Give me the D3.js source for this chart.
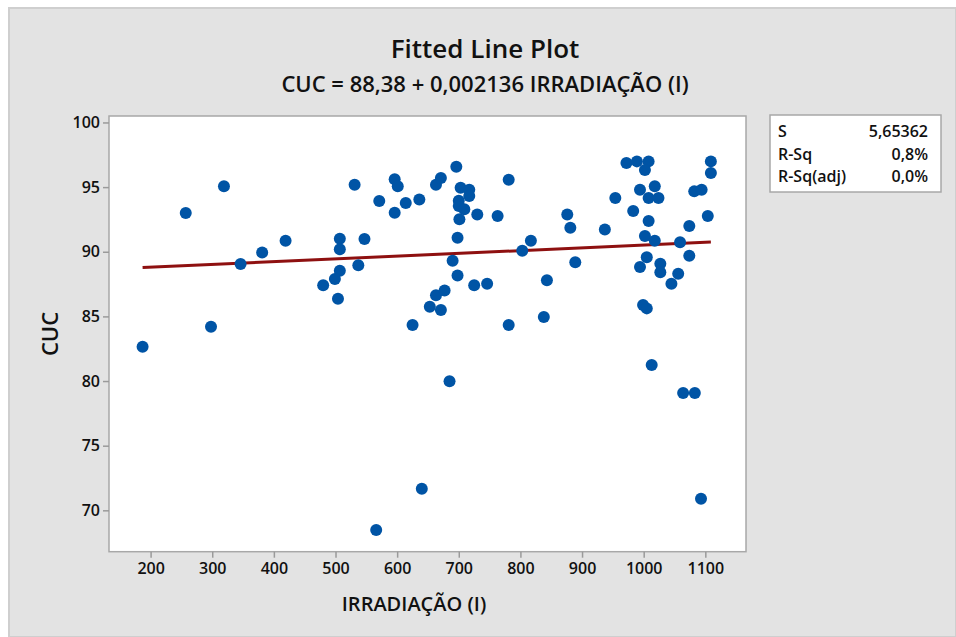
<!DOCTYPE html>
<html>
<head>
<meta charset="utf-8">
<script src="https://cdn.jsdelivr.net/npm/d3@7"></script>
<style>
  body { margin: 0; background: #ffffff; }
  svg text { font-family: "Open Sans", "Noto Sans", sans-serif; fill: #111; }
</style>
</head>
<body>
<div id="chart"></div>
<script>
// irradiation (x) and CUC (y) values
const irradiacao = [
  257, 319, 346, 381, 419, 298, 187, 531, 507, 507,
  547, 537, 507, 499, 480, 504, 571, 596, 601, 614,
  636, 596, 625, 653, 663, 671, 696, 703, 717, 717,
  700, 700, 709, 701, 730, 763, 781, 698, 690, 698,
  725, 746, 663, 677, 671, 781, 838, 843, 803, 817,
  876, 881, 889, 937, 954, 972, 989, 1008, 1002, 994,
  1018, 1008, 1024, 983, 1008, 1002, 1018, 1005, 994, 1027,
  1027, 1056, 1045, 1059, 1074, 1074, 1082, 1094, 1104, 1109,
  1109, 999, 1005, 685, 1013, 1064, 1083, 1093, 640, 566
];
const cuc = [
  93.0, 95.06, 89.05, 89.95, 90.85, 84.2, 82.65, 95.18, 91.0, 90.19,
  90.98, 88.95, 88.53, 87.89, 87.4, 86.36, 93.92, 95.6, 95.06, 93.77,
  94.05, 93.02, 84.33, 85.75, 95.18, 95.7, 96.57, 94.95, 94.8, 94.31,
  93.94, 93.53, 93.28, 92.51, 92.89, 92.76, 95.57, 91.08, 89.3, 88.17,
  87.4, 87.53, 86.63, 87.01, 85.49, 84.33, 84.95, 87.79, 90.08, 90.85,
  92.89, 91.86, 89.18, 91.73, 94.15, 96.86, 96.99, 96.99, 96.32, 94.8,
  95.06, 94.15, 94.15, 93.15, 92.37, 91.21, 90.85, 89.57, 88.82, 89.07,
  88.41, 88.3, 87.53, 90.73, 91.99, 89.69, 94.67, 94.8, 92.76, 96.99,
  96.09, 85.88, 85.62, 79.98, 81.24, 79.07, 79.07, 70.9, 71.67, 68.48
];

// regression from the subtitle
const intercept = 88.38;
const slope = 0.002136;

const xTicks = [200, 300, 400, 500, 600, 700, 800, 900, 1000, 1100];
const yTicks = [70, 75, 80, 85, 90, 95, 100];

const statLabels = ["S", "R-Sq", "R-Sq(adj)"];
const statValues = ["5,65362", "0,8%", "0,0%"];

const W = 956, H = 637;
const plot = {left: 109, top: 116, right: 746, bottom: 551.7};

const svg = d3.select("#chart").append("svg")
  .attr("width", W)
  .attr("height", H);

// grey panel
svg.append("rect")
  .attr("x", 9).attr("y", 8)
  .attr("width", W - 9).attr("height", H - 8)
  .attr("fill", "#e3e3e3")
  .attr("stroke", "#cfcfcf")
  .attr("stroke-width", 2);

// scales
const x = d3.scaleLinear()
  .domain([132.5, 1166])
  .range([plot.left, plot.right]);

const y = d3.scaleLinear()
  .domain([66.8, 100.5])
  .range([plot.bottom, plot.top]);

// plot area
svg.append("rect")
  .attr("x", plot.left).attr("y", plot.top)
  .attr("width", plot.right - plot.left)
  .attr("height", plot.bottom - plot.top)
  .attr("fill", "#ffffff")
  .attr("stroke", "#a8a8a8")
  .attr("stroke-width", 1.5);

// axes
const xAxis = svg.append("g")
  .attr("transform", `translate(0,${plot.bottom})`)
  .call(d3.axisBottom(x).tickValues(xTicks).tickFormat(d3.format("d")).tickSize(6).tickPadding(5));

const yAxis = svg.append("g")
  .attr("transform", `translate(${plot.left},0)`)
  .call(d3.axisLeft(y).tickValues(yTicks).tickFormat(d3.format("d")).tickSize(6).tickPadding(3));

[xAxis, yAxis].forEach(g => {
  g.select(".domain").remove();
  g.selectAll(".tick line").attr("stroke", "#9a9a9a").attr("stroke-width", 1.5);
  g.selectAll(".tick text")
    .style("font-family", "'Open Sans', sans-serif")
    .style("font-size", "16px")
    .style("font-weight", 600)
    .attr("fill", "#111");
});

// fitted line
const xExtent = d3.extent(irradiacao);
const fitLine = d3.line()
  .x(d => x(d))
  .y(d => y(intercept + slope * d));

svg.append("path")
  .datum(xExtent)
  .attr("d", fitLine)
  .attr("fill", "none")
  .attr("stroke", "#8e1010")
  .attr("stroke-width", 3);

// points
svg.append("g")
  .selectAll("circle")
  .data(irradiacao.map((d, i) => ({x: d, y: cuc[i]})))
  .join("circle")
    .attr("cx", d => x(d.x))
    .attr("cy", d => y(d.y))
    .attr("r", 6)
    .attr("fill", "#0054a5");

// titles
svg.append("text")
  .attr("x", 485).attr("y", 58)
  .attr("text-anchor", "middle")
  .style("font-size", "26px")
  .style("font-weight", 600)
  .text("Fitted Line Plot");

svg.append("text")
  .attr("x", 485).attr("y", 92)
  .attr("text-anchor", "middle")
  .style("font-size", "22px")
  .style("font-weight", 600)
  .text("CUC = 88,38 + 0,002136 IRRADIAÇÃO (I)");

svg.append("text")
  .attr("x", 414).attr("y", 611)
  .attr("text-anchor", "middle")
  .style("font-size", "20px")
  .style("font-weight", 600)
  .text("IRRADIAÇÃO (I)");

svg.append("text")
  .attr("transform", "translate(58,334) rotate(-90)")
  .attr("text-anchor", "middle")
  .style("font-size", "22px")
  .style("font-weight", 600)
  .text("CUC");

// stats box
const box = svg.append("g");
box.append("rect")
  .attr("x", 770).attr("y", 115)
  .attr("width", 171).attr("height", 77)
  .attr("fill", "#ffffff")
  .attr("stroke", "#a8a8a8")
  .attr("stroke-width", 1.5);

statLabels.forEach((lab, i) => {
  box.append("text")
    .attr("x", 778).attr("y", 137 + i * 22.5)
    .style("font-size", "16px")
    .style("font-weight", 600)
    .text(lab);
  box.append("text")
    .attr("x", 928).attr("y", 137 + i * 22.5)
    .attr("text-anchor", "end")
    .style("font-size", "16px")
    .style("font-weight", 600)
    .text(statValues[i]);
});
</script>
</body>
</html>
